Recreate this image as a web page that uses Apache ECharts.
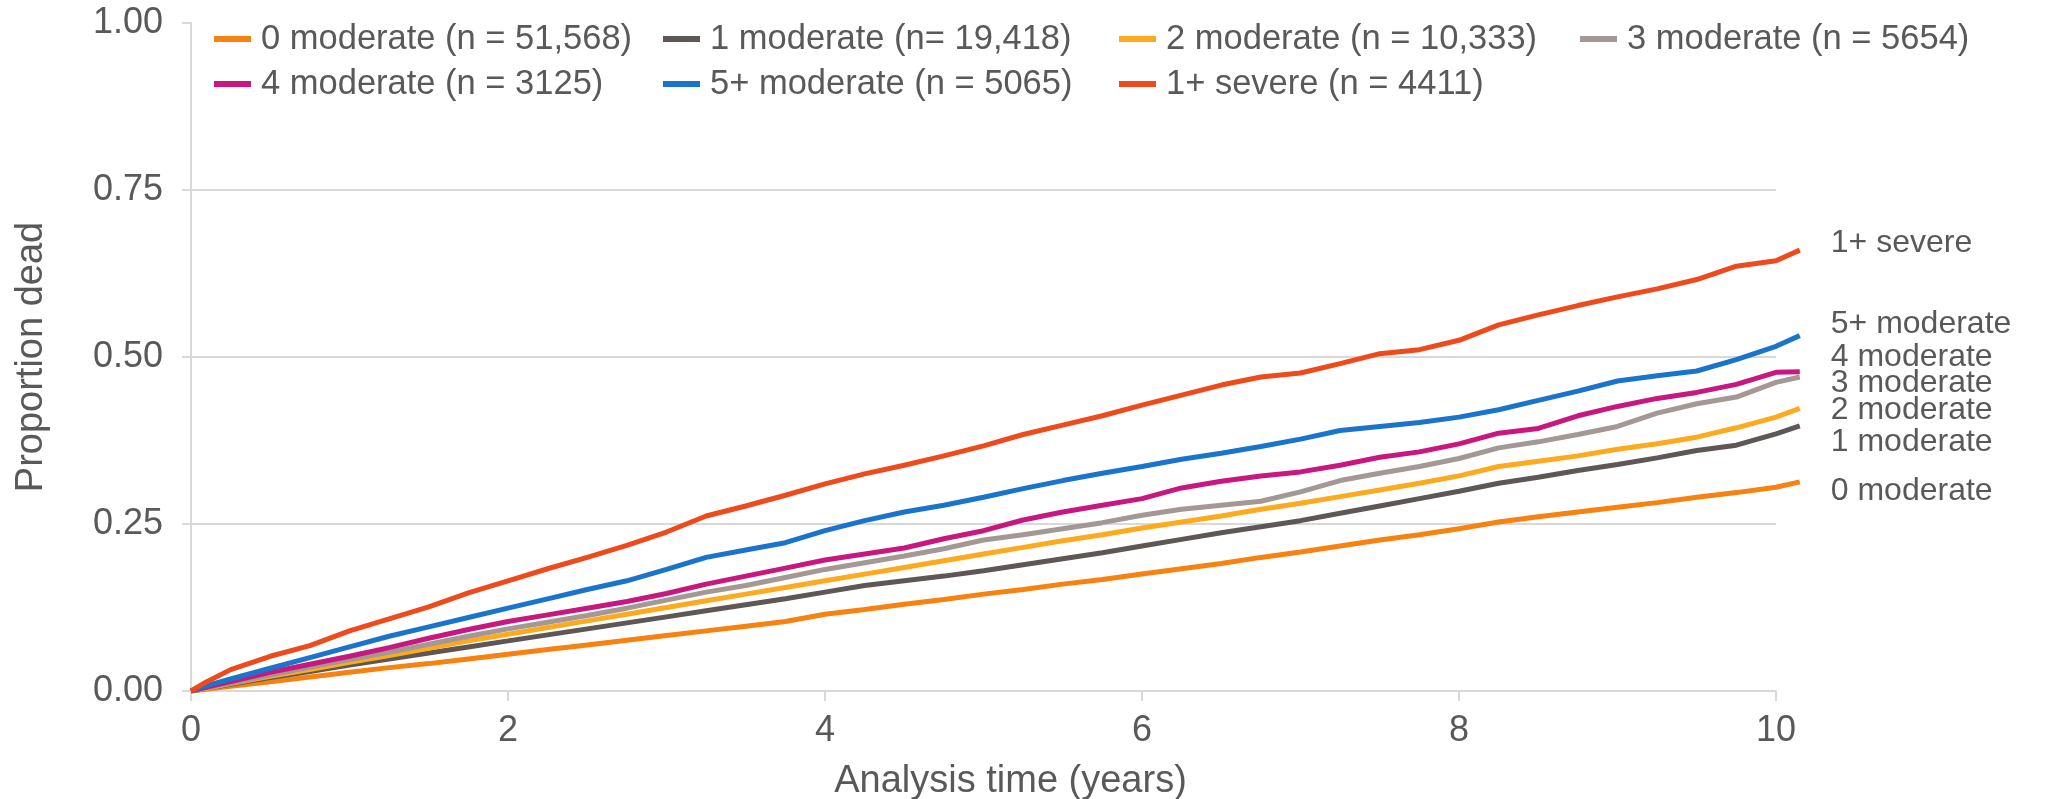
<!DOCTYPE html>
<html>
<head>
<meta charset="utf-8">
<style>
  html, body { margin: 0; padding: 0; background: #ffffff; }
  #chart { width: 2046px; height: 799px; }
</style>
<script src="https://cdn.jsdelivr.net/npm/echarts@6/dist/echarts.min.js"></script>
</head>
<body>
<div id="chart"></div>
<script>
// Analysis time in years (shared by every group)
const years = [0, 0.1, 0.25, 0.5, 0.75, 1, 1.25, 1.5, 1.75, 2, 2.25, 2.5, 2.75, 3, 3.25, 3.5, 3.75,
  4, 4.25, 4.5, 4.75, 5, 5.25, 5.5, 5.75, 6, 6.25, 6.5, 6.75, 7, 7.25, 7.5, 7.75,
  8, 8.25, 8.5, 8.75, 9, 9.25, 9.5, 9.75, 10, 10.15];

// Cumulative proportion dead per group
const mod0 = [0, 0.003, 0.007, 0.014, 0.021, 0.028, 0.035, 0.041, 0.048, 0.055, 0.062, 0.069, 0.076, 0.083, 0.09, 0.097, 0.104,
  0.115, 0.122, 0.13, 0.137, 0.145, 0.152, 0.16, 0.167, 0.175, 0.183, 0.191, 0.2, 0.208, 0.217, 0.226, 0.234,
  0.243, 0.253, 0.261, 0.268, 0.275, 0.282, 0.29, 0.297, 0.305, 0.313];
const mod1 = [0, 0.004, 0.01, 0.02, 0.029, 0.039, 0.048, 0.057, 0.066, 0.075, 0.084, 0.093, 0.102, 0.111, 0.12, 0.129, 0.138,
  0.148, 0.158, 0.165, 0.172, 0.18, 0.189, 0.198, 0.207, 0.217, 0.227, 0.237, 0.246, 0.255, 0.266, 0.277, 0.288,
  0.299, 0.311, 0.32, 0.33, 0.339, 0.349, 0.36, 0.368, 0.385, 0.397];
const mod2 = [0, 0.004, 0.011, 0.022, 0.032, 0.043, 0.053, 0.064, 0.075, 0.085, 0.095, 0.105, 0.115, 0.125, 0.135, 0.145, 0.155,
  0.165, 0.175, 0.185, 0.195, 0.205, 0.215, 0.225, 0.234, 0.244, 0.253, 0.262, 0.272, 0.281, 0.291, 0.301, 0.311,
  0.322, 0.336, 0.344, 0.352, 0.362, 0.37, 0.38, 0.394, 0.41, 0.423];
const mod3 = [0, 0.005, 0.012, 0.024, 0.036, 0.047, 0.058, 0.07, 0.082, 0.093, 0.103, 0.113, 0.124, 0.136, 0.148, 0.158, 0.17,
  0.182, 0.192, 0.202, 0.213, 0.226, 0.234, 0.243, 0.252, 0.263, 0.272, 0.278, 0.284, 0.298, 0.315, 0.326, 0.336,
  0.348, 0.364, 0.373, 0.384, 0.396, 0.416, 0.43, 0.44, 0.462, 0.47];
const mod4 = [0, 0.006, 0.014, 0.028, 0.04, 0.052, 0.065, 0.079, 0.092, 0.104, 0.114, 0.124, 0.134, 0.146, 0.16, 0.172, 0.184,
  0.196, 0.205, 0.214, 0.228, 0.24, 0.256, 0.268, 0.278, 0.288, 0.304, 0.314, 0.322, 0.328, 0.338, 0.35, 0.358,
  0.37, 0.386, 0.393, 0.412, 0.426, 0.438, 0.447, 0.459, 0.477, 0.478];
const mod5 = [0, 0.008, 0.018, 0.034, 0.05, 0.066, 0.082, 0.096, 0.11, 0.124, 0.138, 0.152, 0.165, 0.182, 0.2, 0.211, 0.222,
  0.24, 0.255, 0.268, 0.278, 0.29, 0.303, 0.315, 0.326, 0.336, 0.347, 0.356, 0.366, 0.377, 0.39, 0.396, 0.402,
  0.41, 0.421, 0.435, 0.449, 0.464, 0.472, 0.479, 0.496, 0.516, 0.532];
const severe = [0, 0.014, 0.032, 0.052, 0.068, 0.09, 0.108, 0.126, 0.147, 0.165, 0.183, 0.2, 0.218, 0.238, 0.262, 0.277, 0.293,
  0.31, 0.325, 0.338, 0.352, 0.367, 0.384, 0.398, 0.412, 0.428, 0.443, 0.458, 0.47, 0.476, 0.49, 0.505, 0.511,
  0.525, 0.548, 0.563, 0.577, 0.59, 0.602, 0.616, 0.636, 0.644, 0.66];

const legendNames = ['0 moderate (n = 51,568)', '1 moderate (n= 19,418)', '2 moderate (n = 10,333)',
  '3 moderate (n = 5654)', '4 moderate (n = 3125)', '5+ moderate (n = 5065)', '1+ severe (n = 4411)'];
const endNames = ['0 moderate', '1 moderate', '2 moderate', '3 moderate', '4 moderate', '5+ moderate', '1+ severe'];
const groupValues = [mod0, mod1, mod2, mod3, mod4, mod5, severe];
const xTicks = [0, 2, 4, 6, 8, 10];

const colors = ['#F7820F', '#5F5656', '#FDAA1E', '#A39893', '#C8177F', '#1A74CC', '#EE4A1C'];
// vertical nudges so the right-hand labels do not collide
const endOffsets = [9, 16, 2, 6, -15, -11, -7];

const textColor = '#595959';
const gridColor = '#d9d9d9';
const font = 'Liberation Sans, Arial, sans-serif';

// The curves run a little past the last labelled year, so they sit on a
// second (hidden) grid whose x-range ends later but keeps the same scale.
const X_END = years[years.length - 1];
const PLOT_LEFT = 191, PLOT_RIGHT10 = 1776;
const pxPerYear = (PLOT_RIGHT10 - PLOT_LEFT) / 10;
const curveRight = 2046 - (PLOT_RIGHT10 + (X_END - 10) * pxPerYear);

const series = groupValues.map((vals, i) => ({
  name: legendNames[i],
  type: 'line',
  xAxisIndex: 1,
  yAxisIndex: 1,
  data: years.map((t, k) => [t, vals[k]]),
  showSymbol: false,
  symbol: 'none',
  lineStyle: { color: colors[i], width: 5 },
  itemStyle: { color: colors[i] },
  endLabel: {
    show: true,
    formatter: endNames[i],
    color: textColor,
    fontSize: 32,
    fontFamily: font,
    distance: 0,
    offset: [31, endOffsets[i]]
  },
  emphasis: { disabled: true }
}));

// legend laid out as four aligned columns of two rows
const legendCols = [
  { left: 209, items: [legendNames[0], legendNames[4]] },
  { left: 658, items: [legendNames[1], legendNames[5]] },
  { left: 1114, items: [legendNames[2], legendNames[6]] },
  { left: 1575, items: [legendNames[3]] }
];
const legends = legendCols.map(c => ({
  orient: 'vertical',
  left: c.left,
  top: 14,
  data: c.items,
  icon: 'rect',
  itemWidth: 37,
  itemHeight: 6,
  itemGap: 5,
  selectedMode: false,
  textStyle: {
    color: textColor,
    fontSize: 34.5,
    lineHeight: 40,
    fontFamily: font,
    padding: [0, 0, 0, 5]
  }
}));

const gridBox = { top: 23, bottom: 108, containLabel: false, outerBoundsMode: 'none' };

const chart = echarts.init(document.getElementById('chart'), null, { renderer: 'canvas' });
chart.setOption({
  animation: false,
  backgroundColor: '#ffffff',
  textStyle: { fontFamily: font },
  legend: legends,
  grid: [
    Object.assign({ left: PLOT_LEFT, right: 2046 - PLOT_RIGHT10 }, gridBox),
    Object.assign({ left: PLOT_LEFT, right: curveRight }, gridBox)
  ],
  xAxis: [{
    type: 'value',
    gridIndex: 0,
    min: xTicks[0],
    max: xTicks[xTicks.length - 1],
    interval: 2,
    name: 'Analysis time (years)',
    nameLocation: 'middle',
    nameGap: 72,
    nameTextStyle: { color: textColor, fontSize: 38, padding: [0, 0, 0, 54] },
    axisLine: { show: true, lineStyle: { color: gridColor, width: 2 } },
    axisTick: { show: true, length: 10, lineStyle: { color: gridColor, width: 2 } },
    axisLabel: { color: textColor, fontSize: 36, margin: 22 },
    splitLine: { show: false }
  }, {
    type: 'value',
    gridIndex: 1,
    min: 0,
    max: X_END,
    show: false
  }],
  yAxis: [{
    type: 'value',
    gridIndex: 0,
    min: 0,
    max: 1,
    interval: 0.25,
    name: 'Proportion dead',
    nameLocation: 'middle',
    nameGap: 140,
    nameRotate: 90,
    nameTextStyle: { color: textColor, fontSize: 38 },
    axisLine: { show: true, lineStyle: { color: gridColor, width: 2 } },
    axisTick: { show: true, length: 9, lineStyle: { color: gridColor, width: 2 } },
    axisLabel: { color: textColor, fontSize: 36, margin: 28, formatter: v => v.toFixed(2) },
    splitLine: { show: true, showMaxLine: false, lineStyle: { color: gridColor, width: 2 } }
  }, {
    type: 'value',
    gridIndex: 1,
    min: 0,
    max: 1,
    show: false
  }],
  series: series
});
</script>
</body>
</html>
